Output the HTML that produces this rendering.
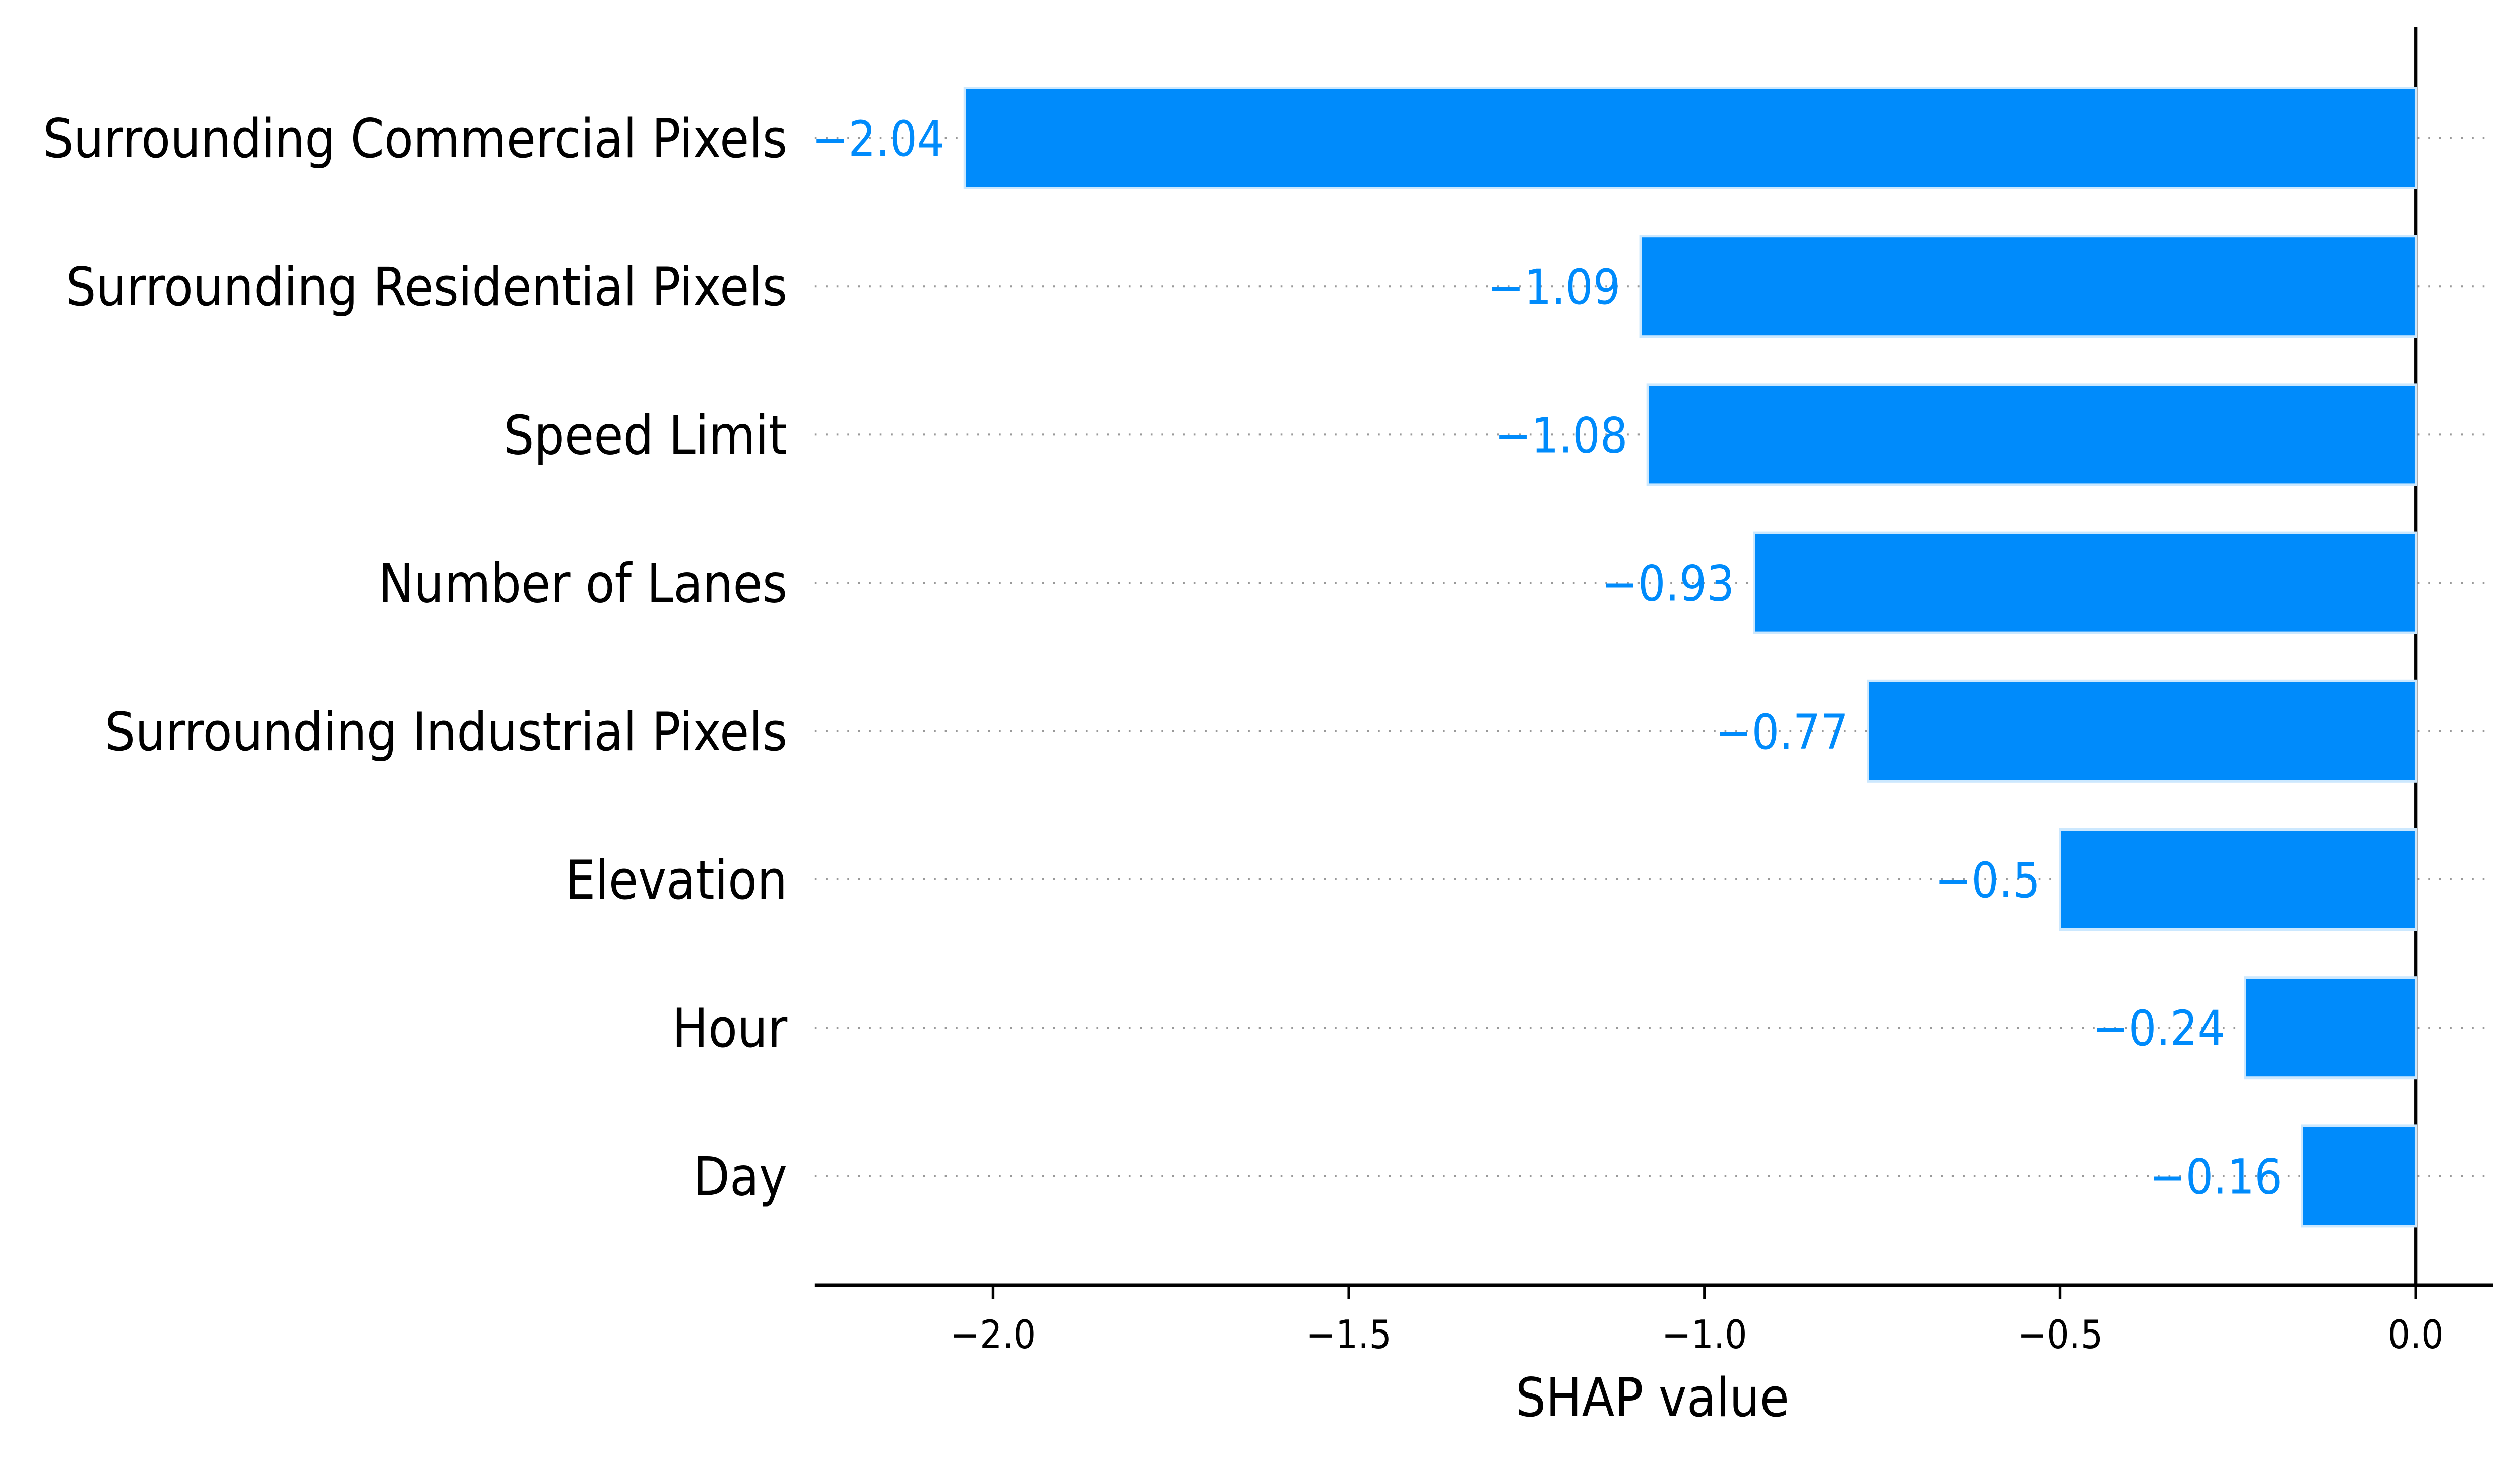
<!DOCTYPE html>
<html><head><meta charset="utf-8"><style>html,body{margin:0;padding:0;background:#fff;width:100%;height:100%;overflow:hidden}svg{display:block;width:100vw;height:100vh}</style></head>
<body>
<svg id="chart" xmlns="http://www.w3.org/2000/svg" viewBox="0 0 5585 2897" preserveAspectRatio="none" font-family="'DejaVu Sans','Liberation Sans',sans-serif">
<rect width="5585" height="2897" fill="#fff"/>
<g id="grid"></g><g id="zero"></g><g id="bars"></g><g id="labels"></g><g id="axis"></g>
<text x="3662" y="2810" font-size="106" text-anchor="middle" fill="#000">SHAP value</text>
</svg>
<script>
const categories = ["Surrounding Commercial Pixels","Surrounding Residential Pixels","Speed Limit","Number of Lanes","Surrounding Industrial Pixels","Elevation","Hour","Day"];
const values = [-2.04,-1.09,-1.08,-0.93,-0.77,-0.5,-0.24,-0.16];
const valueLabels = ["\u22122.04","\u22121.09","\u22121.08","\u22120.93","\u22120.77","\u22120.5","\u22120.24","\u22120.16"];
const ticks = [-2.0,-1.5,-1.0,-0.5,0.0];
const tickLabels = ["\u22122.0","\u22121.5","\u22121.0","\u22120.5","0.0"];

const NS="http://www.w3.org/2000/svg";
const x0=5354, unit=1576.5;
function xs(v){return x0+v*unit;}
function ys(i){return 274+i*294.2;}
function mk(t,a,p){const e=document.createElementNS(NS,t);for(const k in a)e.setAttribute(k,a[k]);p.appendChild(e);return e;}
const grid=document.getElementById('grid'),bars=document.getElementById('bars'),labels=document.getElementById('labels'),axis=document.getElementById('axis'),zero=document.getElementById('zero');
const axL=1806, axR=5525, axY=2550;
const zl=mk('line',{x1:xs(0),x2:xs(0),y1:53,y2:axY,stroke:'#000','stroke-width':7},zero);


categories.forEach((c,i)=>{
  const y=ys(i);
  const g=mk('line',{x1:axL,x2:axR,y1:y,y2:y,stroke:'#999','stroke-width':4,'stroke-dasharray':'4 20'},grid);
  
  
  const v=values[i];
  const r=mk('rect',{x:xs(v),y:y-99.5,width:xs(0)-xs(v),height:199,fill:'#008bfb',stroke:'#cce8fe','stroke-width':5},bars);
  
  
  const t=mk('text',{x:1745,y:y+38,'font-size':106,'text-anchor':'end',fill:'#000'},labels);
  t.textContent=c;
  
  
  const vl=mk('text',{x:xs(v)-44,y:y+35,'font-size':96,'text-anchor':'end',fill:'#008bfb'},labels);
  vl.textContent=valueLabels[i];
  
  
});
const al=mk('line',{x1:axL,x2:axR,y1:axY,y2:axY,stroke:'#000','stroke-width':7},axis);


ticks.forEach((tv,i)=>{
  const x=xs(tv);
  const tk=mk('line',{x1:x,x2:x,y1:axY,y2:axY+27,stroke:'#000','stroke-width':6},axis);
  
  
  const tl=mk('text',{x:x,y:2675,'font-size':78,'text-anchor':'middle',fill:'#000'},axis);
  tl.textContent=tickLabels[i];
  
  
});
</script>
</body></html>
